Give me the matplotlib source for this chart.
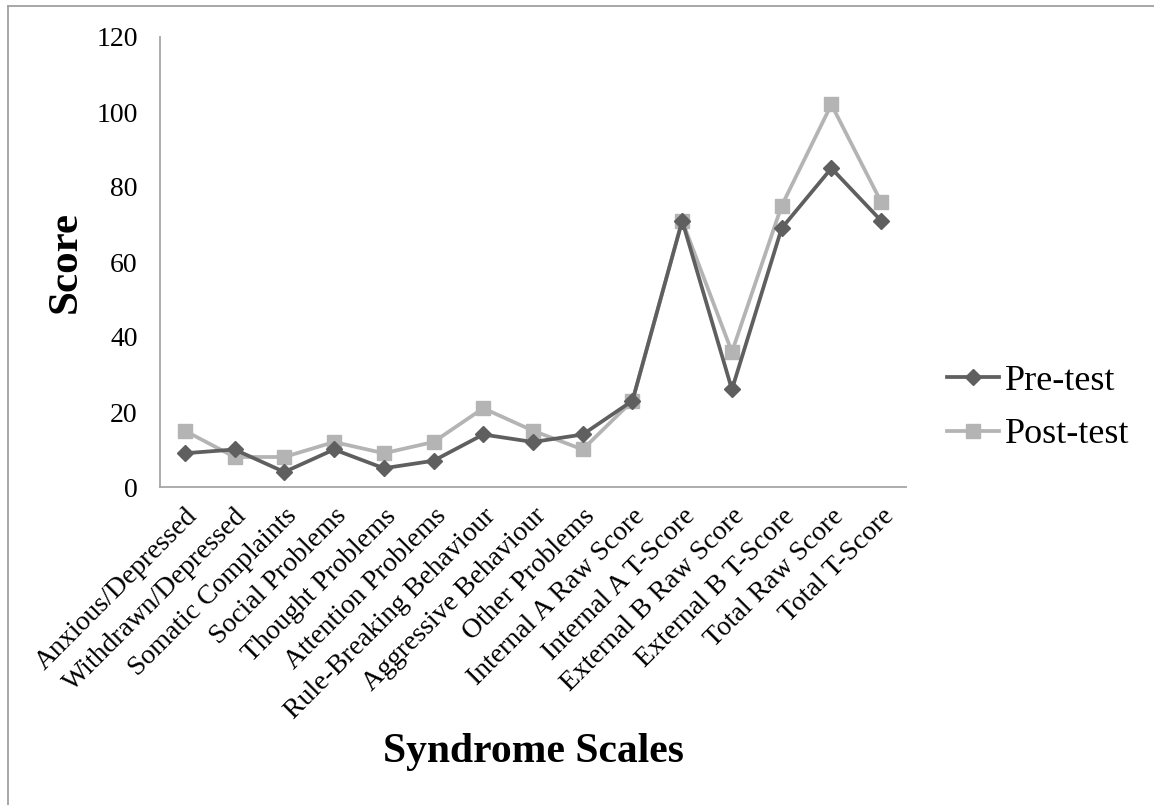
import matplotlib.pyplot as plt
from matplotlib.lines import Line2D

# ------------------------- Datos -------------------------

escalas = ['Anxious/Depressed', 'Withdrawn/Depressed', 'Somatic Complaints',
           'Social Problems', 'Thought Problems', 'Attention Problems',
           'Rule-Breaking Behaviour', 'Aggressive Behaviour', 'Other Problems',
           'Internal A Raw Score', 'Internal A T-Score', 'External B Raw Score',
           'External B T-Score', 'Total Raw Score', 'Total T-Score']
pre_test = [9, 10, 4, 10, 5, 7, 14, 12, 14, 23, 71, 26, 69, 85, 71]
post_test = [15, 8, 8, 12, 9, 12, 21, 15, 10, 23, 71, 36, 75, 102, 76]

# ------------------------- Gráfico -------------------------

plt.rcParams['font.family'] = ['Liberation Serif', 'DejaVu Serif']

fig = plt.figure(figsize=(11.54, 8.05), dpi=100)
ax = fig.add_axes([160/1154, 1 - 487/805, 746/1154, 450/805])

x = list(range(len(escalas)))
ax.plot(x, pre_test, color='#5f5f5f', lw=2.7, marker='D', ms=8.5,
        label='Pre-test', zorder=3)
ax.plot(x, post_test, color='#b4b4b4', lw=2.7, marker='s', ms=10,
        label='Post-test', zorder=2)

ax.set_xlim(-0.5, len(escalas) - 0.5)
ax.set_ylim(0, 120)
ax.set_yticks(range(0, 121, 20))
ax.set_xticks(x)
ax.set_xticklabels(escalas, rotation=45, ha='right', va='top',
                   rotation_mode='anchor')
ax.tick_params(length=0, labelsize=20)
ax.tick_params(axis='y', pad=16)
ax.tick_params(axis='x', pad=12)

for lado in ['top', 'right']:
    ax.spines[lado].set_visible(False)
for lado in ['left', 'bottom']:
    ax.spines[lado].set_color('#a6a6a6')
    ax.spines[lado].set_linewidth(1.3)

fig.text(66/1154, 1 - 262/805, 'Score', rotation=90, fontsize=31,
         fontweight='bold', ha='center', va='center')
fig.text(533/1154, 1 - 752/805, 'Syndrome Scales', fontsize=30,
         fontweight='bold', ha='center', va='center')

ax.legend(loc='center left', bbox_to_anchor=(947/1154, 1 - 408/805),
          bbox_transform=fig.transFigure, frameon=False, fontsize=26,
          handlelength=1.45, handletextpad=0.15, labelspacing=0.55,
          borderpad=0, borderaxespad=0)

# marco de la figura (solo izquierda y arriba)
fig.add_artist(Line2D([7.5/1154, 7.5/1154], [0, 1 - 6.5/805],
                      transform=fig.transFigure, color='#a0a0a0', lw=1.3))
fig.add_artist(Line2D([7.5/1154, 1], [1 - 6.5/805, 1 - 6.5/805],
                      transform=fig.transFigure, color='#a0a0a0', lw=1.3))

fig.savefig('out.png', dpi=100)
